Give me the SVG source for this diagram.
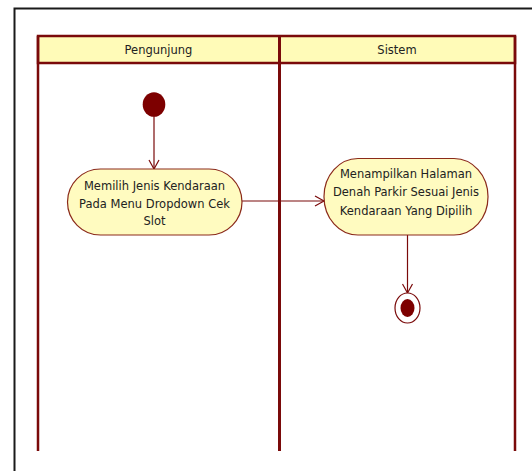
<svg xmlns="http://www.w3.org/2000/svg" width="532" height="471" viewBox="0 0 532 471">
  <defs>
    <style>
      .frame { fill: none; stroke: #1a1a1a; stroke-width: 2; }
      .lane { fill: none; stroke: #7a0a0a; stroke-width: 2.5; }
      .header { fill: #fffbb8; stroke: #7a0a0a; stroke-width: 2.5; }
      .action { fill: #fffbc0; stroke: #8b2a1a; stroke-width: 1.2; }
      .flow { fill: none; stroke: #7a0a0a; stroke-width: 1.2; }
      .dot { fill: #7d0000; }
      .label { font-family: Tahoma, "DejaVu Sans", "Liberation Sans", sans-serif; font-size: 11.5px; fill: #222; text-anchor: middle; }
    </style>
    <marker id="open" markerWidth="12" markerHeight="12" refX="10" refY="6" orient="auto" markerUnits="userSpaceOnUse">
      <path d="M1,1 L10,6 L1,11" fill="none" stroke="#7a0a0a" stroke-width="1.2"/>
    </marker>
  </defs>

  <rect width="532" height="471" fill="#ffffff"/>
  <!-- outer frame (top and left edges) -->
  <path class="frame" d="M14.5,471 L14.5,8.5 L532,8.5"/>

  <!-- swimlanes -->
  <g id="lanes">
    <rect class="header" x="38" y="36" width="477" height="27"/>
    <line class="lane" x1="38" y1="36" x2="38" y2="451"/>
    <line class="lane" x1="279.5" y1="36" x2="279.5" y2="451" style="stroke-width:3"/>
    <line class="lane" x1="515" y1="36" x2="515" y2="451"/>
    <text class="label" x="158.5" y="54">Pengunjung</text>
    <text class="label" x="397" y="54">Sistem</text>
  </g>

  <!-- connectors -->
  <g id="connectors">
    <line class="flow" x1="154" y1="115" x2="154" y2="169" marker-end="url(#open)"/>
    <line class="flow" x1="242" y1="201" x2="324" y2="201" marker-end="url(#open)"/>
    <line class="flow" x1="407.5" y1="235" x2="407.5" y2="293" marker-end="url(#open)"/>
  </g>

  <g id="start">
    <ellipse class="dot" cx="154" cy="104.5" rx="11.3" ry="12.3"/>
  </g>

  <g id="action-pilih">
    <rect class="action" x="67.5" y="169" width="174.5" height="66" rx="33" ry="33"/>
    <text class="label" x="154.5" y="190">Memilih Jenis Kendaraan</text>
    <text class="label" x="154.5" y="207.5">Pada Menu Dropdown Cek</text>
    <text class="label" x="154.5" y="225">Slot</text>
  </g>

  <g id="action-tampil">
    <rect class="action" x="324" y="158.5" width="164" height="76.5" rx="34" ry="38"/>
    <text class="label" x="406" y="177.5">Menampilkan Halaman</text>
    <text class="label" x="406" y="196">Denah Parkir Sesuai Jenis</text>
    <text class="label" x="406" y="215">Kendaraan Yang Dipilih</text>
  </g>

  <g id="end">
    <ellipse cx="407.5" cy="308" rx="12.5" ry="15" fill="#ffffff" stroke="#7a0a0a" stroke-width="1.2"/>
    <ellipse class="dot" cx="407.5" cy="308" rx="7" ry="9"/>
  </g>
</svg>
